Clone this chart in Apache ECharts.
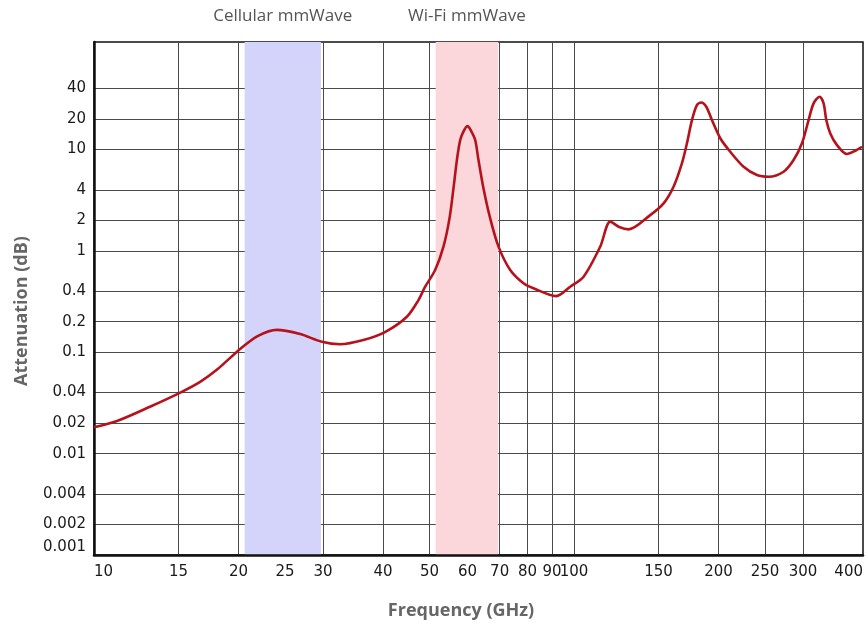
<!DOCTYPE html>
<html>
<head>
<meta charset="utf-8">
<script src="https://cdn.jsdelivr.net/npm/echarts@6/dist/echarts.min.js"></script>
<style>
  html, body { margin: 0; padding: 0; background: #fff; }
  #chart { width: 868px; height: 625px; }
</style>
</head>
<body>
<div id="chart"></div>
<script>
// frequency in GHz and attenuation in dB
const freq = [10, 11.17, 13.08, 15.13, 16.64, 18.02, 20.22, 21.97, 24.03, 26.88, 29.83, 32.56, 36.41, 40.47, 44.85, 47.42, 48.97, 51.37, 53.46, 55.03, 56.09, 57.02, 57.93, 58.9, 59.99, 61.06, 62.25, 63.24, 64.78, 66.9, 69.62, 73.64, 78.48, 82.33, 91.83, 98.19, 104.7, 113.4, 119, 124.2, 129.9, 144.1, 153.7, 161.2, 167.8, 171.9, 176.1, 180.3, 184.1, 188.6, 193.8, 201.7, 211.6, 225.6, 240.5, 254.3, 273.3, 286.7, 298.5, 308.1, 315.6, 324.8, 331.1, 335.4, 341.9, 353.1, 370.4, 385.5, 398.1];
const atten = [0.0182, 0.021, 0.029, 0.04, 0.051, 0.067, 0.109, 0.145, 0.166, 0.151, 0.127, 0.12, 0.132, 0.159, 0.224, 0.327, 0.443, 0.647, 1.1, 2.09, 4.13, 7.86, 12.4, 15.2, 17, 15.2, 12.4, 7.86, 4.13, 2.09, 1.1, 0.647, 0.478, 0.427, 0.358, 0.443, 0.556, 1.1, 1.94, 1.72, 1.63, 2.25, 2.94, 4.29, 7.29, 11.5, 19.5, 27.4, 29.1, 26.4, 19.5, 12.9, 9.49, 6.75, 5.59, 5.38, 6.03, 7.86, 11.5, 19.5, 28.5, 33.1, 28.5, 19.5, 14.4, 11.05, 9.01, 9.71, 10.63];

const xTicks = [10, 15, 20, 25, 30, 40, 50, 60, 70, 80, 90, 100, 150, 200, 250, 300, 400];
const yTicks = [0.001, 0.002, 0.004, 0.01, 0.02, 0.04, 0.1, 0.2, 0.4, 1, 2, 4, 10, 20, 40];

const bandNames = ['Cellular mmWave', 'Wi-Fi mmWave'];
const bandFrom = [20.6, 51.5];
const bandTo = [29.7, 69.5];
const bandColors = ['#d4d4fa', '#fbd6da'];

const lg = Math.log10;
function pick(list, v) {
  let best = list[0];
  list.forEach(t => { if (Math.abs(lg(t) - v) < Math.abs(lg(best) - v)) best = t; });
  return String(best);
}

const chart = echarts.init(document.getElementById('chart'), null, { renderer: 'canvas' });

const labelFont = { fontFamily: 'DejaVu Sans', fontSize: 15, color: '#1a1a1a' };

chart.setOption({
  animation: false,
  backgroundColor: '#fff',
  grid: {
    left: 94, right: 5, top: 42, bottom: 70,
    show: true, borderColor: '#111', borderWidth: 1.5, z: 1
  },
  xAxis: {
    type: 'value',
    z: 1,
    min: lg(10),
    max: lg(400),
    axisLine: { show: true, onZero: false, lineStyle: { color: '#111', width: 2.5 } },
    axisTick: { show: false, customValues: xTicks.map(lg) },
    splitLine: { show: true, lineStyle: { color: '#4a4a4a', width: 1 } },
    axisLabel: Object.assign({
      customValues: xTicks.map(lg),
      margin: 10,
      alignMinLabel: 'left',
      alignMaxLabel: 'right',
      formatter: v => pick(xTicks, v)
    }, labelFont)
  },
  yAxis: {
    type: 'value',
    z: 1,
    min: lg(0.001),
    max: 2.06,
    axisLine: { show: true, onZero: false, lineStyle: { color: '#111', width: 2.5 } },
    axisTick: { show: false, customValues: yTicks.map(lg) },
    splitLine: { show: true, lineStyle: { color: '#4a4a4a', width: 1 } },
    axisLabel: Object.assign({
      customValues: yTicks.map(lg),
      margin: 8,
      verticalAlignMinLabel: 'bottom',
      formatter: v => pick(yTicks, v)
    }, labelFont)
  },
  graphic: [
    {
      type: 'text', x: 22, y: 311, rotation: Math.PI / 2,
      style: {
        text: 'Attenuation (dB)', fill: '#666',
        font: 'bold 18px "Open Sans"',
        align: 'center', verticalAlign: 'middle',
        textAlign: 'center', textVerticalAlign: 'middle'
      }
    },
    {
      type: 'text', x: 461, y: 611,
      style: {
        text: 'Frequency (GHz)', fill: '#666',
        font: 'bold 18px "Open Sans"',
        align: 'center', verticalAlign: 'middle',
        textAlign: 'center', textVerticalAlign: 'middle'
      }
    }
  ],
  series: [
    {
      type: 'line',
      z: 0,
      data: [],
      silent: true,
      markArea: {
        silent: true,
        data: bandNames.map((n, i) => [
          { name: n, xAxis: lg(bandFrom[i]), itemStyle: { color: bandColors[i] } },
          { xAxis: lg(bandTo[i]) }
        ]),
        label: {
          show: true, position: 'top', distance: 17,
          fontFamily: 'Open Sans', fontSize: 17, color: '#555'
        }
      }
    },
    {
      type: 'line',
      z: 3,
      smooth: 0.3,
      symbol: 'none',
      lineStyle: { color: '#b5121b', width: 2.6 },
      data: freq.map((f, i) => [lg(f), lg(atten[i])])
    }
  ]
});
</script>
</body>
</html>
